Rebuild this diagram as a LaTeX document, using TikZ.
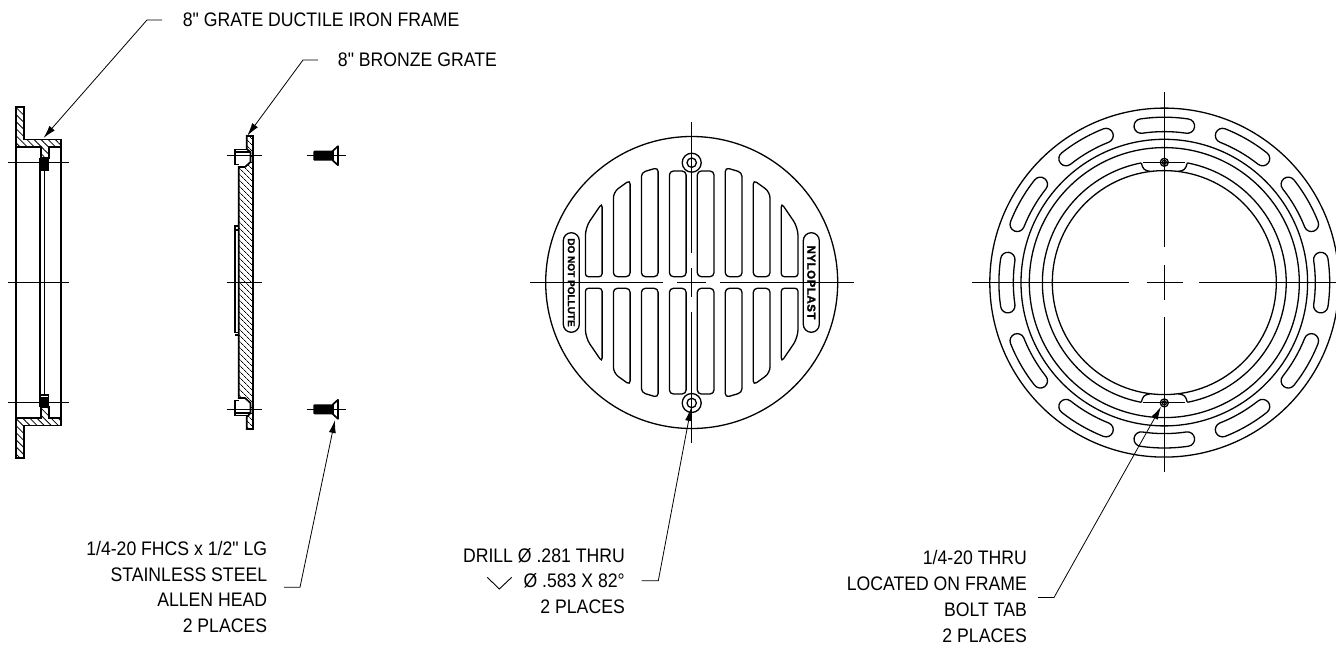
\documentclass[tikz,border=0pt]{standalone}
\usepackage{fontspec}
\setmainfont[Ligatures=TeXOff,FakeStretch=0.9]{Liberation Sans}
\newfontfamily\badgefont[UprightFont=* Bold,FakeBold=1.5]{Liberation Sans}
\usetikzlibrary{arrows.meta,patterns.meta}

\tikzset{
  part/.style={line width=1.3pt},
  section/.style={line width=1.7pt},
  cline/.style={line width=0.9pt},
  leader/.style={line width=0.8pt,-{Latex[length=13pt,width=7pt]}},
  callout/.style={inner sep=0pt,align=right,font=\fontsize{19.6}{25.8}\selectfont},
  hatched/.style={section,pattern={Lines[angle=-45,distance=5pt,line width=0.8pt]}},
  hatchedfine/.style={section,pattern={Lines[angle=-45,distance=4pt,line width=0.7pt]}}
}

\begin{document}
\begin{tikzpicture}[x=1pt,y=-1pt]

\clip (0,0) rectangle (1336,650);

% frame section
\draw[section] (16.3,147.3)--(16.3,417.7);
\draw[section] (61,147.3)--(61,417.7);
\draw[part] (40,170)--(40,395);
\draw[part] (44.3,170)--(44.3,395);
\foreach \sy in {1,-1}{
\begin{scope}[shift={(0,282.5)},yscale=\sy]
\draw[hatched] (16.3,-175.8)--(24.3,-175.8)--(24.3,-143)--(61,-143)--(61,-135.2)--(48.7,-135.2)--(48.7,-124.5)--(40.7,-124.5)--(40.7,-135.2)--(16.3,-135.2)--cycle;
\fill (40.7,-124.5) rectangle (47.7,-114);
\draw[part] (40,-124.5)--(40,-112.5)--(48.7,-112.5)--(48.7,-124.5);
\draw[cline] (8,-120.2)--(69,-120.2);
\end{scope}
}
\draw[cline] (8,282.5)--(69,282.5);

% grate section
\draw[hatchedfine] (246.7,136)--(253,136)--(253,429)--(246.7,429)--(246.7,417)--(250.5,413)--(250.5,403)--(245,398)--(238.7,398)--(238.7,167)--(245,167)--(250.5,162)--(250.5,152)--(246.7,149)--cycle;
\foreach \sy in {1,-1}{
\begin{scope}[shift={(0,282.5)},yscale=\sy]
\draw[part] (246.7,-133.2)--(235,-133.2)--(235,-118)--(238.7,-118);
\draw[part] (235,-130.5)--(250.5,-130.5);
\draw[part] (235,-52.5)--(238.7,-52.5);
\end{scope}
}
\draw[part] (238.7,226)--(235,226)--(235,332.5)--(238.7,332.5);
\draw[cline] (226.7,155.7)--(261.7,155.7);
\draw[cline] (226.7,282.5)--(261.7,282.5);
\draw[cline] (226.7,409.3)--(261.7,409.3);

% screws
\foreach \yc in {155.7,409.3}{
\begin{scope}[shift={(0,\yc)}]
\draw[cline] (306.7,0)--(346,0);
\fill[rounded corners=1pt] (313.3,-5)--(333,-5)--(333,5)--(313.3,5)--cycle;
\draw[section,line join=round] (333,-5)--(338,-9.5)--(338,9.5)--(333,5)--cycle;
\draw[cline] (333,0)--(346,0);
\end{scope}
}

% grate front view
\draw[part] (691.7,282.5) circle (146);
\foreach \sx in {1,-1}{
\foreach \sy in {1,-1}{
\begin{scope}[shift={(691.7,282.5)},xscale=\sx,yscale=\sy,rounded corners=4pt]
\draw[part] (5.6,-5.8)--(5.6,-111.5)--(22.3,-111.5)--(22.3,-5.8)--cycle;
\draw[part] (33.6,-5.8)--(33.6,-115)--(50.3,-110)--(50.3,-5.8)--cycle;
\draw[part] (61.6,-5.8)--(61.6,-102.5)[rounded corners=6pt]--(78.3,-90.5)[rounded corners=4pt]--(78.3,-5.8)--cycle;
\draw[part] (89.6,-5.8)--(89.6,-79.5)[rounded corners=8pt]--(106.3,-55)[rounded corners=3pt]--(106.3,-5.8)--cycle;
\end{scope}
}
}
\foreach \yc in {162.7,403}{
\draw[part] (691.7,\yc) circle (9.5);
\draw[part] (691.7,\yc) circle (4.7);
}
\draw[part,rounded corners=8pt] (563.3,232.7) rectangle (579.3,332.3);
\draw[part,rounded corners=8pt] (803.3,232.7) rectangle (819.3,332.3);
\node[rotate=-90,inner sep=0pt,font=\badgefont\fontsize{10}{10}\selectfont] (badgeleft) at (571.3,282.5) {DO NOT POLLUTE};
\node[rotate=-90,inner sep=0pt,font=\badgefont\fontsize{11.6}{12}\selectfont\addfontfeature{LetterSpace=4}] (badgeright) at (811.3,282.5) {NYLOPLAST};
\draw[cline] (530,282.7)--(662.7,282.7);
\draw[cline] (677,282.7)--(706,282.7);
\draw[cline] (720,282.7)--(854,282.7);
\draw[cline] (691.7,122)--(691.7,253);
\draw[cline] (691.7,268)--(691.7,297);
\draw[cline] (691.7,312)--(691.7,443);

% frame front view
\begin{scope}[shift={(1164.3,282.6)}]
\draw[part] (0,0) circle (174.5);
\draw[part] (0,0) circle (143.3);
\draw[part] (0,0) circle (135);
\draw[part] (0,0) circle (112);
\draw[part] (-79.1:121.9) arc[start angle=-79.1,end angle=79.1,radius=121.9];
\draw[part] (100.9:121.9) arc[start angle=100.9,end angle=259.1,radius=121.9];
\foreach \sx in {1,-1}{
\foreach \sy in {1,-1}{
\draw[part,xscale=\sx,yscale=\sy] (-23,-119.7) .. controls (-21.5,-113.5) and (-20,-112) .. (-14,-111.2);
}
}
\foreach \ang in {0,30,...,330}{
\draw[part] (\ang-8.4:165.4) arc[start angle=\ang-8.4,end angle=\ang+8.4,radius=165.4]
  arc[start angle=\ang+8.4,delta angle=180,radius=7.2]
  arc[start angle=\ang+8.4,end angle=\ang-8.4,radius=151]
  arc[start angle=\ang-8.4+180,delta angle=180,radius=7.2];
}
\foreach \yt in {-120.3,120.3}{
\draw[cline] (-21,\yt)--(21,\yt);
\draw[part] (0,\yt) circle (4);
\draw[part] (0,\yt) circle (2);
}
\end{scope}
\draw[cline] (972,282.7)--(1129.3,282.7);
\draw[cline] (1146.7,282.7)--(1182.7,282.7);
\draw[cline] (1199.3,282.7)--(1336,282.7);
\draw[cline] (1164.3,92)--(1164.3,246.7);
\draw[cline] (1164.3,265)--(1164.3,300);
\draw[cline] (1164.3,317.3)--(1164.3,472);

% notes
\node[callout,anchor=east] (framenote) at (459.5,20) {8" GRATE DUCTILE IRON FRAME};
\node[callout,anchor=east] (gratenote) at (497,60) {8" BRONZE GRATE};
\node[callout,anchor=east] (screwnote) at (267.3,587) {1/4-20 FHCS x 1/2" LG\\STAINLESS STEEL\\ALLEN HEAD\\2 PLACES};
\node[callout,anchor=east] (drillnote) at (625,581) {DRILL Ø .281 THRU\\Ø .583 X 82°\\2 PLACES};
\node[callout,anchor=east] (tapnote) at (1027,596.5) {1/4-20 THRU\\LOCATED ON FRAME\\BOLT TAB\\2 PLACES};

\coordinate (sinkleft) at (487.3,577.3);
\coordinate (sinkmid) at (499.3,589);
\coordinate (sinkright) at (511.7,577.3);
\draw[cline] (sinkleft)--(sinkmid)--(sinkright);

\coordinate (frametip) at (43.5,138);
\coordinate (gratetip) at (247.3,135.7);
\coordinate (screwtip) at (335,420);
\coordinate (drilltip) at (691,408);
\coordinate (taptip) at (1161,406.7);

\coordinate (framea) at (162,20);
\coordinate (frameb) at (147,20);
\coordinate (gratea) at (318,60);
\coordinate (grateb) at (303,60);
\coordinate (screwa) at (284,587.3);
\coordinate (screwb) at (300,587.3);
\coordinate (drilla) at (641.7,580.7);
\coordinate (drillb) at (658.3,580.7);
\coordinate (tapa) at (1038,597.5);
\coordinate (tapb) at (1054,597.5);

\draw[leader] (framea)--(frameb)--(frametip);
\draw[leader] (gratea)--(grateb)--(gratetip);
\draw[leader] (screwa)--(screwb)--(screwtip);
\draw[leader] (drilla)--(drillb)--(drilltip);
\draw[leader] (tapa)--(tapb)--(taptip);

\end{tikzpicture}
\end{document}
